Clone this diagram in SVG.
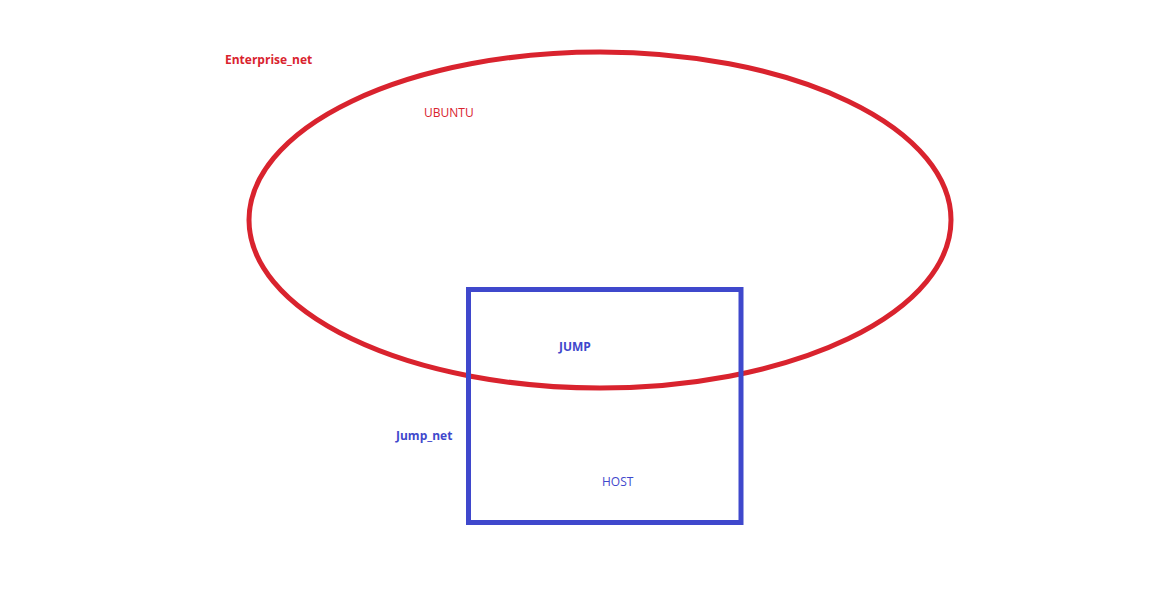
<svg xmlns="http://www.w3.org/2000/svg" width="1173" height="599" viewBox="0 0 1173 599">
<style>
.r{fill:#d9232e}
.b{fill:#3f48cc}
text{font-family:"Open Sans","Noto Sans",sans-serif;font-size:12px}
.bold{font-weight:bold}
</style>
<rect width="1173" height="599" fill="#ffffff"/>
<g id="enterprise_net">
<ellipse cx="600" cy="220" rx="351" ry="168" fill="none" stroke="#d9232e" stroke-width="5"/>
<text class="r bold" x="225" y="64">Enterprise_net</text>
</g>
<g id="ubuntu"><text class="r" x="424" y="117">UBUNTU</text></g>
<g id="jump_net">
<rect x="468.5" y="289.5" width="272.5" height="233" fill="none" stroke="#3f48cc" stroke-width="5"/>
<text class="b bold" x="396" y="440">Jump_net</text>
</g>
<g id="jump"><text class="b bold" x="559" y="351">JUMP</text></g>
<g id="host"><text class="b" x="602" y="486">HOST</text></g>
<g id="connectors"></g>
</svg>
